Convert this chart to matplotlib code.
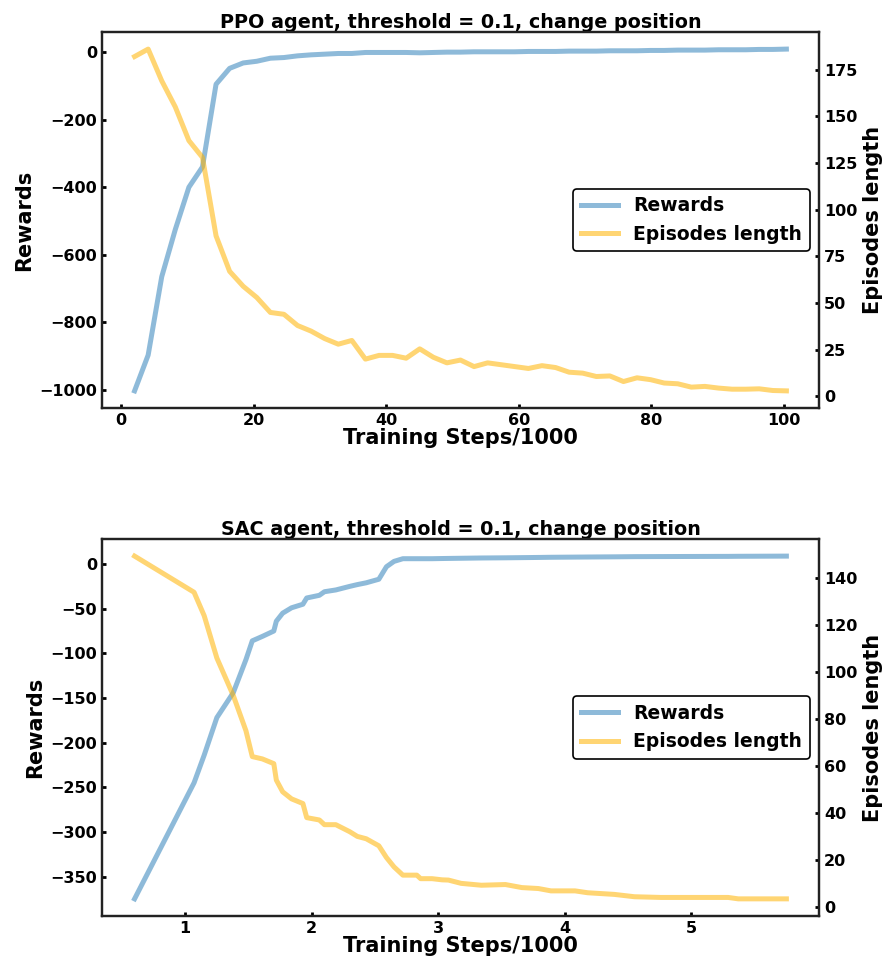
import numpy as np
import matplotlib.pyplot as plt

# PPO run: one point every 2048 steps
ppo_steps = np.arange(1, 50) * 2.048
ppo_rewards = [-1003, -897, -665, -525, -400, -340, -95, -48, -32, -27,
               -18, -16, -11, -8, -6, -4, -4, -1, -1, -1,
               -1, -2, -1, 0, 0, 1, 1, 1, 1, 2,
               2, 2, 3, 3, 3, 4, 4, 4, 5, 5,
               6, 6, 6, 7, 7, 7, 8, 8, 9]
ppo_lengths = [182, 186, 169, 155, 137, 128, 86, 67, 59, 53,
               45, 44, 38, 35, 31, 28, 30, 20, 22, 22,
               20.5, 25.5, 21, 18, 19.5, 16, 18, 17, 16, 15,
               16.5, 15.5, 13, 12.5, 10.7, 11, 8, 10, 9, 7.2,
               6.8, 5, 5.4, 4.5, 3.9, 3.9, 4.1, 3.2, 3]

# SAC run
sac_steps = [0.60, 1.07, 1.15, 1.25, 1.38, 1.48, 1.53, 1.61, 1.70, 1.72,
             1.77, 1.84, 1.93, 1.96, 2.06, 2.10, 2.19, 2.30, 2.36, 2.43,
             2.53, 2.59, 2.65, 2.72, 2.83, 2.86, 2.95, 3.03, 3.08, 3.18,
             3.34, 3.53, 3.66, 3.79, 3.89, 4.08, 4.18, 4.39, 4.55, 4.76,
             5.29, 5.37, 5.75]
sac_rewards = [-375, -245, -214, -172, -144, -107, -86, -81, -75, -64,
               -55, -49, -45, -38, -35, -31, -29, -25, -23, -21,
               -17, -3, 3, 6, 6, 6, 6, 6.2, 6.3, 6.5,
               6.8, 7, 7.2, 7.4, 7.6, 7.8, 7.9, 8.1, 8.3, 8.4,
               8.6, 8.7, 8.9]
sac_lengths = [149.4, 134, 124, 106, 90, 75, 64, 63, 61, 54,
               49, 46, 44, 38, 37, 35, 35, 32, 30, 29,
               26, 21, 17, 13.5, 13.5, 12, 12, 11.5, 11.4, 10,
               9.2, 9.5, 8.2, 7.8, 6.8, 6.8, 6, 5.3, 4.3, 4,
               4, 3.4, 3.4]
sac_xticks = [1, 2, 3, 4, 5]

plt.rcParams['font.family'] = 'DejaVu Sans'
plt.rcParams['font.weight'] = 'bold'
plt.rcParams['axes.labelweight'] = 'bold'
plt.rcParams['axes.titleweight'] = 'bold'

BLUE = '#1f77b4'
YELLOW = '#ffb400'

fig = plt.figure(figsize=(8.83, 9.64), dpi=100)


def panel(rect, x, rew, length, title):
    ax = fig.add_axes(rect)
    ax2 = ax.twinx()
    l1, = ax.plot(x, rew, color=BLUE, alpha=0.5, lw=3.6, label='Rewards')
    l2, = ax2.plot(x, length, color=YELLOW, alpha=0.55, lw=3.6, label='Episodes length')
    for a in (ax, ax2):
        a.tick_params(direction='in', length=3, width=2, labelsize=11.5)
        for s in a.spines.values():
            s.set_linewidth(1.6)
            s.set_color('#222222')
    ax.set_title(title, fontsize=13.8, pad=2)
    ax.set_xlabel('Training Steps/1000', fontsize=15, labelpad=0)
    ax.set_ylabel('Rewards', fontsize=15)
    ax2.set_ylabel('Episodes length', fontsize=15)
    leg = ax2.legend([l1, l2], ['Rewards', 'Episodes length'], loc='center right',
                     fontsize=13.5, fancybox=True, framealpha=1)
    leg.get_frame().set_edgecolor('black')
    leg.get_frame().set_linewidth(1.2)
    return ax, ax2


panel([0.1155, 0.5768, 0.812, 0.39], ppo_steps, ppo_rewards, ppo_lengths,
      'PPO agent, threshold = 0.1, change position')
ax, ax2 = panel([0.1155, 0.0498, 0.812, 0.3911], sac_steps, sac_rewards, sac_lengths,
                'SAC agent, threshold = 0.1, change position')
ax.set_xticks(sac_xticks)

fig.savefig('out.png', dpi=100)
